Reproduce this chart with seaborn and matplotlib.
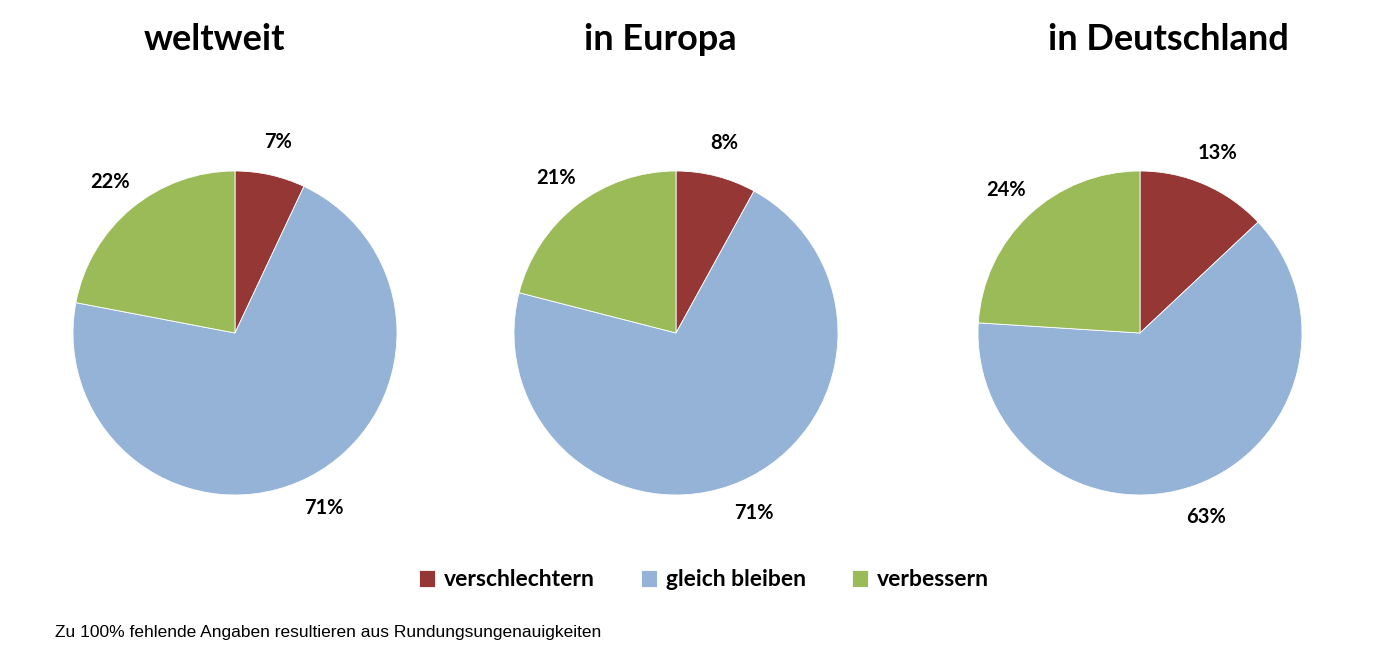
import matplotlib
matplotlib.use("Agg")
import matplotlib.pyplot as plt
import seaborn as sns

# data
regionen = ["weltweit", "in Europa", "in Deutschland"]
kategorien = ["verschlechtern", "gleich bleiben", "verbessern"]
weltweit = [7, 71, 22]
europa = [8, 71, 21]
deutschland = [13, 63, 24]
werte = [weltweit, europa, deutschland]
fussnote = "Zu 100% fehlende Angaben resultieren aus Rundungsungenauigkeiten"

sns.set_style("white")
plt.rcParams["font.family"] = ["Lato", "DejaVu Sans"]
plt.rcParams["text.color"] = "black"
farben = sns.color_palette(["#953735", "#95B3D7", "#9BBB59"])

W, H = 1374, 668
fig = plt.figure(figsize=(W / 100, H / 100), dpi=100)

R = 162  # pie radius in px
lim = 1.3
centers_x = [235, 676, 1140]
center_y = 333
title_x = [214, 660, 1168]

wedges = None
for i, (name, vals) in enumerate(zip(regionen, werte)):
    size = 2 * lim * R
    ax = fig.add_axes([(centers_x[i] - size / 2) / W,
                       (H - center_y - size / 2) / H,
                       size / W, size / H])
    wedges, texts, autotexts = ax.pie(
        vals, colors=farben, startangle=90, counterclock=False,
        autopct=lambda p: f"{p:.0f}%", pctdistance=1.21,
        wedgeprops=dict(linewidth=0.6, edgecolor="white"),
        textprops=dict(fontsize=14.5, fontweight="bold", color="black"))
    ax.set_xlim(-lim, lim)
    ax.set_ylim(-lim, lim)
    ax.set_aspect("equal")
    ax.axis("off")
    fig.text(title_x[i] / W, 1 - 40 / H, name, ha="center", va="center",
             fontsize=26, fontweight="bold", color="black")

fig.legend(wedges, kategorien, loc="center", ncol=3,
           bbox_to_anchor=(704 / W, 1 - 580 / H), frameon=False,
           prop=dict(size=16.5, weight="bold"),
           handlelength=0.7, handleheight=0.7, handletextpad=0.4,
           columnspacing=2.0)

fig.text(55 / W, 1 - 633 / H, fussnote, ha="left", va="center",
         fontsize=12.5, family=["Liberation Sans", "DejaVu Sans"])

fig.savefig("out.png", dpi=100, facecolor="white")
